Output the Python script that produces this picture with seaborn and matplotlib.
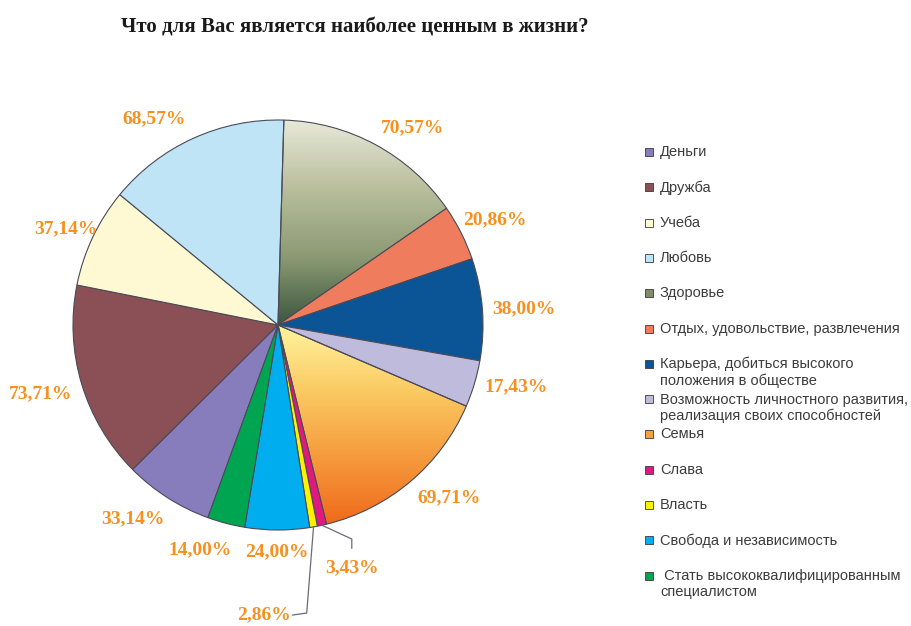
import numpy as np
import matplotlib
matplotlib.use("Agg")
import matplotlib.pyplot as plt
from matplotlib.colors import LinearSegmentedColormap
from matplotlib.patches import Rectangle
import seaborn as sns

# ---------------- data ----------------
title = "Что для Вас является наиболее ценным в жизни?"
categories = [
    "Деньги",
    "Дружба",
    "Учеба",
    "Любовь",
    "Здоровье",
    "Отдых, удовольствие, развлечения",
    "Карьера, добиться высокого\nположения в обществе",
    "Возможность личностного развития,\nреализация своих способностей",
    "Семья",
    "Слава",
    "Власть",
    "Свобода и независимость",
    " Стать высококвалифицированным\nспециалистом",
]
values = [33.14, 73.71, 37.14, 68.57, 70.57, 20.86, 38.00, 17.43, 69.71, 3.43, 2.86, 24.00, 14.00]
value_labels = ["33,14%", "73,71%", "37,14%", "68,57%", "70,57%", "20,86%", "38,00%",
                "17,43%", "69,71%", "3,43%", "2,86%", "24,00%", "14,00%"]

# ---------------- style ----------------
slice_colors = ["#877DBD", "#8A5056", "#FFF9D3", "#BEE4F6", "#A3AA86", "#EF7C5D", "#0B5495",
                "#BFBBDD", "#F8B04A", "#E1197E", "#FFF200", "#00AEEF", "#00A551"]
legend_colors = list(slice_colors)
legend_colors[4] = "#7E8C6C"
legend_colors[8] = "#F2A040"
label_color = "#F7901E"
edge_color = "#4A4A58"

sns.set_theme(style="white")
plt.rcParams["font.family"] = ["Liberation Sans", "DejaVu Sans"]

W, H = 911, 626
fig = plt.figure(figsize=(W / 100, H / 100), dpi=100)
ax = fig.add_axes([0, 0, 1, 1])

wedges, _ = ax.pie(values, colors=slice_colors, startangle=-110, counterclock=False,
                   radius=1.0, wedgeprops=dict(edgecolor=edge_color, linewidth=0.8))

# gradient fills (Здоровье, Семья)
grad_specs = {
    4: (["#E7E9D8", "#B9BE9C", "#8C9A74", "#3B573D"], 1.0, 0.0),
    8: (["#FFF49E", "#FBC860", "#F5973A", "#EF6619"], 0.0, -1.0),
}
for idx, (cols, ytop, ybot) in grad_specs.items():
    w = wedges[idx]
    cmap = LinearSegmentedColormap.from_list(f"g{idx}", cols)
    grad = np.linspace(0, 1, 256).reshape(-1, 1)
    im = ax.imshow(grad, cmap=cmap, aspect="auto", extent=[-1, 1, ybot, ytop],
                   origin="upper", zorder=0.9, interpolation="bilinear")
    im.set_clip_path(w)
    w.set_facecolor("none")

# scale: centre at (278, 325) px, radius 205 px
cx, cy, R = 278, 325, 205
ax.set_xlim(-cx / R, (W - cx) / R)
ax.set_ylim(-(H - cy) / R, cy / R)
ax.set_aspect("auto")
ax.axis("off")

label_font = dict(family=["Liberation Serif", "DejaVu Serif"], fontsize=14,
                  fontweight="bold", color=label_color)
nudges = {0: (0.01, -0.02), 1: (0.0, -0.03), 2: (0.07, 0.02), 3: (-0.015, 0.01),
          5: (-0.035, 0.04), 11: (0.0, -0.015), 12: (0.04, -0.04)}

for i, w in enumerate(wedges):
    mid = np.deg2rad((w.theta1 + w.theta2) / 2)
    dx, dy = np.cos(mid), np.sin(mid)
    if i == 9 or i == 10:
        continue
    px, py = 1.05 * dx, 1.05 * dy
    ha = "center" if abs(dx) < 0.1 else ("left" if dx > 0 else "right")
    va = "center" if abs(dy) < 0.5 else ("bottom" if dy > 0 else "top")
    nx, ny = nudges.get(i, (0, 0))
    ax.text(px + nx, py + ny, value_labels[i], ha=ha, va=va, **label_font)

# leader lines for the two thin slices
lc = "#6A6A78"
for i, pts, tpos, ha, va in [
    (9, [(0.36, -1.044), (0.36, -1.09)], (0.36, -1.145), "center", "top"),
    (10, [(0.14, -1.405), (0.07, -1.415)], (0.065, -1.415), "right", "center"),
]:
    w = wedges[i]
    mid = np.deg2rad((w.theta1 + w.theta2) / 2)
    sx, sy = np.cos(mid), np.sin(mid)
    xs = [sx] + [p[0] for p in pts]
    ys = [sy] + [p[1] for p in pts]
    ax.plot(xs, ys, color=lc, lw=0.9, zorder=3)
    ax.text(tpos[0], tpos[1], value_labels[i], ha=ha, va=va, **label_font)

# title
fig.text(355 / W, 1 - 27 / H, title, ha="center", va="center",
         family=["Liberation Serif", "DejaVu Serif"], fontsize=15, fontweight="bold",
         color="#1A1A1A")

# legend (manual)
y0, step = 152, 35.3
for i, (cat, col) in enumerate(zip(categories, legend_colors)):
    y = y0 + i * step
    fig.patches.append(Rectangle((645 / W, 1 - (y + 4) / H), 8 / W, 8 / H,
                                 transform=fig.transFigure, facecolor=col,
                                 edgecolor="#3A3A3A", lw=0.6))
    nlines = cat.count("\n") + 1
    yc = y + (nlines - 1) * 8.5
    fig.text(660 / W, 1 - yc / H, cat, ha="left", va="center", fontsize=10.5,
             color="#3C3C3C", linespacing=1.15)

fig.savefig("out.png", dpi=100, facecolor="white")
